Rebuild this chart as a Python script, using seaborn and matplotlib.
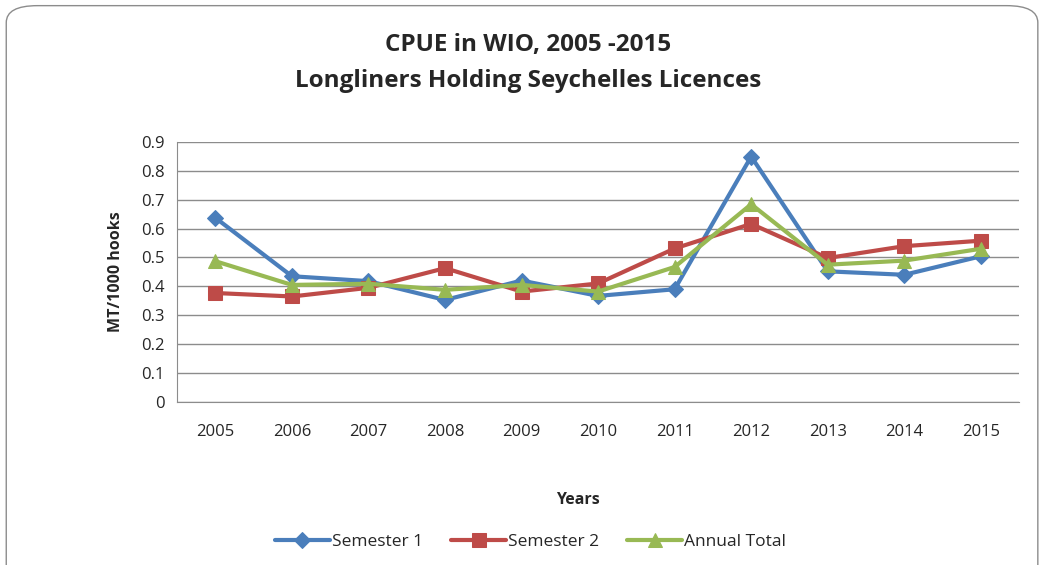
import pandas as pd
import seaborn as sns
import matplotlib.pyplot as plt
from matplotlib.patches import FancyBboxPatch
from matplotlib.ticker import MultipleLocator, FuncFormatter

years = ['2005', '2006', '2007', '2008', '2009', '2010',
         '2011', '2012', '2013', '2014', '2015']
semester_1 = [0.637, 0.435, 0.418, 0.353, 0.420, 0.367,
              0.390, 0.849, 0.452, 0.440, 0.504]
semester_2 = [0.377, 0.365, 0.395, 0.463, 0.382, 0.410,
              0.531, 0.616, 0.498, 0.539, 0.558]
annual_total = [0.487, 0.405, 0.409, 0.388, 0.405, 0.382,
                0.467, 0.684, 0.475, 0.489, 0.530]

series = [('Semester 1', semester_1, '#4A7EBB', 'D', 8),
          ('Semester 2', semester_2, '#BE4B48', 's', 10),
          ('Annual Total', annual_total, '#98B954', '^', 10)]

sns.set_style('white')
plt.rcParams['font.family'] = ['Open Sans', 'DejaVu Sans']

fig = plt.figure(figsize=(10.42, 5.65), dpi=100)
ax = fig.add_axes([0.170, 0.2885, 0.808, 0.4605])

# rounded chart border
fig.patches.append(FancyBboxPatch((0.006, -0.05), 0.99, 1.04,
                                  boxstyle='round,pad=0,rounding_size=0.03',
                                  transform=fig.transFigure, fill=False,
                                  edgecolor='#8c8c8c', linewidth=1.0))

idx = list(range(len(years)))
for name, vals, col, mk, ms in series:
    df = pd.DataFrame({'x': idx, 'y': vals})
    sns.lineplot(data=df, x='x', y='y', ax=ax, color=col, marker=mk,
                 markersize=ms, linewidth=3, markeredgecolor=col,
                 label=name)

ax.set_xlim(-0.5, len(years) - 0.5)
ax.set_ylim(0, 0.9)
ax.yaxis.set_major_locator(MultipleLocator(0.1))
ax.yaxis.set_major_formatter(FuncFormatter(lambda v, p: '0' if v == 0 else f'{v:.1f}'))
ax.set_xticks(idx)
ax.set_xticklabels(years)
ax.set_xticks([i - 0.5 for i in range(len(years) + 1)], minor=True)
ax.tick_params(axis='x', which='major', length=0, pad=16, labelsize=12)
ax.tick_params(axis='x', which='minor', length=5, color='#8c8c8c', direction='out')
ax.tick_params(axis='y', length=5, color='#8c8c8c', direction='out', labelsize=12, pad=4)
ax.grid(axis='y', color='#8c8c8c', linewidth=1)
ax.set_axisbelow(True)
for s in ['top', 'right']:
    ax.spines[s].set_visible(False)
for s in ['left', 'bottom']:
    ax.spines[s].set_color('#8c8c8c')

ax.set_xlabel('Years', fontsize=11.5, fontweight='bold')
ax.xaxis.set_label_coords(0.476, -0.345)
ax.set_ylabel('MT/1000 hooks', fontsize=11.5, fontweight='bold', labelpad=12)

fig.text(0.507, 0.92, 'CPUE in WIO, 2005 -2015', ha='center', va='center',
         fontsize=17.5, fontweight='bold')
fig.text(0.507, 0.857, 'Longliners Holding Seychelles Licences', ha='center',
         va='center', fontsize=17.5, fontweight='bold')

ax.get_legend().remove()
handles, labels = ax.get_legend_handles_labels()
fig.legend(handles, labels, loc='center', bbox_to_anchor=(0.509, 0.04), ncol=3,
           frameon=False, fontsize=12.5, handlelength=3.2, columnspacing=1.6,
           handletextpad=0.1)

plt.savefig('out.png', dpi=100)
